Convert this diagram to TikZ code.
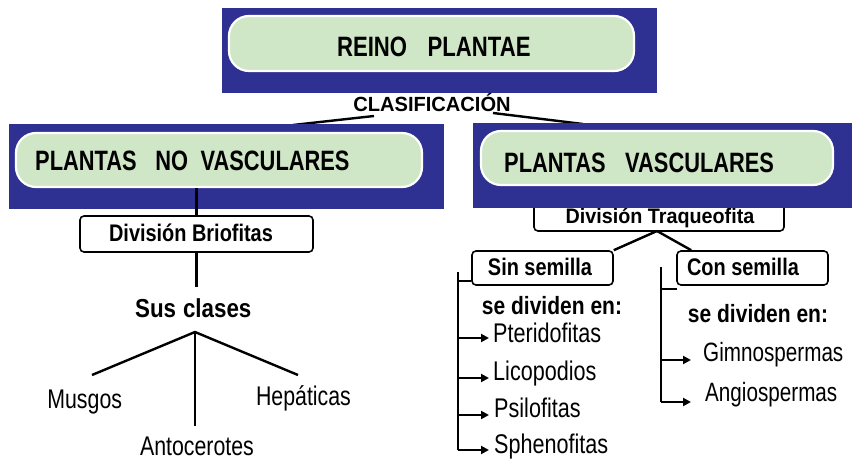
\documentclass[tikz,border=0pt]{standalone}
\usepackage{fontspec}
\setmainfont{Liberation Sans}
\usepackage{graphicx}
\usetikzlibrary{arrows.meta}
\definecolor{navy}{RGB}{46,49,146}
\definecolor{pale}{RGB}{207,230,199}
\newcommand\tx[3]{\fontsize{#1}{#1}\selectfont\scalebox{#2}[1]{#3}}
\begin{document}
\begin{tikzpicture}[x=1pt,y=-1pt,
  bluebox/.style={fill=navy,draw=none,inner sep=0pt},
  greenbox/.style={fill=pale,draw=white,line width=2.2pt,rounded corners=20pt,inner sep=0pt},
  labbox/.style={draw=black,fill=white,line width=1.6pt,rounded corners=4pt,inner sep=0pt},
  lbl/.style={inner sep=0pt,anchor=base},
  lblw/.style={inner sep=0pt,anchor=base west},
  conn/.style={line width=2.4pt,draw=black},
  arr/.style={conn,-{Triangle[length=8pt,width=8pt]}}]
\useasboundingbox[fill=white] (0,0) rectangle (852,460);

% connectors from CLASIFICACION (behind the boxes)
\coordinate (cl1) at (374,116);
\coordinate (cl2) at (493,113);
\coordinate (lb1) at (293,125);
\coordinate (rb1) at (583,124);
\draw[conn] (cl1) -- (lb1);
\draw[conn] (cl2) -- (rb1);

% top box
\node[bluebox,minimum width=435,minimum height=85] (topB) at (439.5,50.5) {};
\node[greenbox,minimum width=405,minimum height=55] (topG) at (431.5,43.5) {};
\node[lbl] (reino) at (433.8,56.5) {\tx{28}{0.79}{\bfseries REINO\hspace{26pt}PLANTAE}};
\node[lbl] (clas) at (432,111) {\tx{20.5}{0.98}{\bfseries CLASIFICACIÓN}};

% division traqueofita (partly hidden by right box)
\node[labbox,minimum width=250,minimum height=32] (traq) at (659,215) {};
\node[lbl] (traqt) at (660,223) {\tx{21}{0.94}{\bfseries División Traqueofita}};

% left box
\node[bluebox,minimum width=435,minimum height=85] (leftB) at (226.5,166.5) {};
\node[greenbox,minimum width=406,minimum height=54] (leftG) at (219,160) {};
\node[lblw] (nov) at (35,170.5) {\tx{28}{0.78}{\bfseries PLANTAS\hspace{24pt}NO\hspace{16pt}VASCULARES}};

% right box
\node[bluebox,minimum width=379,minimum height=85] (rightB) at (662.5,165.5) {};
\node[greenbox,minimum width=352,minimum height=54] (rightG) at (657,158) {};
\node[lblw] (vas) at (504,172) {\tx{28}{0.78}{\bfseries PLANTAS\hspace{25pt}VASCULARES}};

% left branch
\node[labbox,minimum width=233,minimum height=36] (brio) at (196.5,234) {};
\node[lbl] (briot) at (191,241) {\tx{24}{0.83}{\bfseries División Briofitas}};
\draw[conn] (brio.north |- leftG.south) -- (brio.north);
\coordinate (scTop) at (196.5,287);
\draw[conn] (brio.south) -- (scTop);
\node[lbl] (sus) at (193.3,317) {\tx{26}{0.86}{\bfseries Sus\hspace{8pt}clases}};
\coordinate (fork) at (195,332);
\coordinate (fM) at (92,375);
\coordinate (fH) at (298,375);
\coordinate (fA) at (195,426);
\draw[conn] (fM) -- (fork) -- (fH);
\draw[conn] (fork) -- (fA);
\node[lbl] (musgos) at (84.7,408.5) {\tx{27}{0.79}{Musgos}};
\node[lbl] (hepa) at (303.5,405.5) {\tx{27}{0.79}{Hepáticas}};
\node[lbl] (anto) at (197,455) {\tx{27}{0.79}{Antocerotes}};

% right branch
\node[labbox,minimum width=141,minimum height=34] (sin) at (542.5,268) {};
\node[lbl] (sint) at (540,275.5) {\tx{24}{0.83}{\bfseries Sin semilla}};
\node[labbox,minimum width=151,minimum height=34] (con) at (752.5,268) {};
\node[lbl] (cont) at (743,275.5) {\tx{24}{0.83}{\bfseries Con semilla}};
\coordinate (tq) at (657,231);
\draw[conn] (tq) -- (sin.north east);
\draw[conn] (tq) -- ([xshift=15pt]con.north west);

\node[lbl] (sd1) at (552,314.5) {\tx{25}{0.84}{\bfseries se dividen en:}};
\node[lbl] (sd2) at (758,322) {\tx{25}{0.84}{\bfseries se dividen en:}};

% left bracket
\coordinate (lbT) at (458,272);
\coordinate (lbB) at (458,450);
\draw[conn] (lbT) -- (lbB);
\draw[conn] (lbT |- 0,281) -- (sin.west |- 0,281);
\node[lblw] (pter) at (493,342.5) {\tx{27}{0.8}{Pteridofitas}};
\node[lblw] (lico) at (493,380) {\tx{27}{0.8}{Licopodios}};
\node[lblw] (psil) at (494,417) {\tx{27}{0.8}{Psilofitas}};
\node[lblw] (sphe) at (494,453.5) {\tx{27}{0.8}{Sphenofitas}};
\foreach \yy/\nm in {338/a1,378/a2,415/a3,450/a4}{
  \coordinate (\nm s) at (458,\yy);
  \coordinate (\nm e) at (489,\yy);
  \draw[arr] (\nm s) -- (\nm e);
}

% right bracket
\coordinate (rbT) at (661,267);
\coordinate (rbB) at (661,402);
\draw[conn] (rbT) -- (rbB);
\coordinate (tick) at (677,289);
\draw[conn] (rbT |- tick) -- (tick);
\node[lblw] (gimn) at (703,361) {\tx{26.5}{0.78}{Gimnospermas}};
\node[lblw] (angi) at (705,401) {\tx{26.5}{0.78}{Angiospermas}};
\foreach \yy/\nm in {360/b1,402/b2}{
  \coordinate (\nm s) at (661,\yy);
  \coordinate (\nm e) at (691,\yy);
  \draw[arr] (\nm s) -- (\nm e);
}
\end{tikzpicture}
\end{document}
